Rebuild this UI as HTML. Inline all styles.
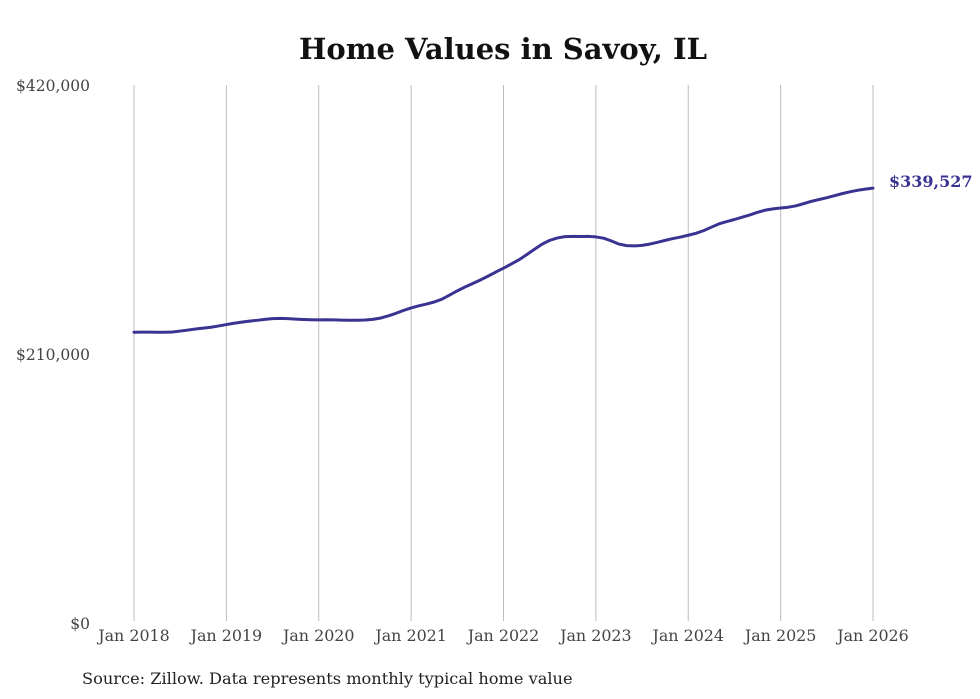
<!DOCTYPE html>
<html><head><meta charset="utf-8">
<style>
html,body{margin:0;padding:0;background:#fff;}
svg{display:block;font-family:"DejaVu Serif","Liberation Serif",serif;}
</style></head>
<body>
<svg id="chart" width="980" height="699" viewBox="0 0 980 699" xmlns="http://www.w3.org/2000/svg">
<text x="503" y="59" text-anchor="middle" font-size="29" font-weight="bold" fill="#111">Home Values in Savoy, IL</text>
<g id="grid"></g>
<g id="yaxis"></g>
<g id="xaxis"></g>
<path id="line" fill="none" stroke="#3a3392" stroke-width="3" stroke-linejoin="round" stroke-linecap="round"/>
<text id="endlabel" font-size="16" font-weight="bold" fill="#3a3392"></text>
<text x="82" y="684" font-size="16.2" fill="#222">Source: Zillow. Data represents monthly typical home value</text>
</svg>
<script>
const xTickLabels = ["Jan 2018","Jan 2019","Jan 2020","Jan 2021","Jan 2022","Jan 2023","Jan 2024","Jan 2025","Jan 2026"];
const yTickValues = [0, 210000, 420000];
const yTickLabels = ["$0","$210,000","$420,000"];
const values2018 = [227000,227100,227100,227000,227000,227200,227900,228700,229500,230200,230900,231900];
const values2019 = [233000,234000,234900,235700,236300,237000,237600,237800,237600,237200,236900,236700];
const values2020 = [236600,236700,236600,236400,236300,236300,236500,237000,238000,239700,241700,244000];
const values2021 = [246000,247600,249000,250600,252800,256000,259300,262300,265000,267800,270800,274000];
const values2022 = [277000,280200,283500,287500,291700,295700,298700,300600,301600,301800,301700,301800];
const values2023 = [301400,300400,298300,295800,294600,294400,294800,295800,297200,298700,300100,301300];
const values2024 = [302700,304200,306300,309000,311600,313400,315000,316800,318600,320600,322300,323300];
const values2025 = [324000,324600,325700,327400,329200,330600,332000,333600,335200,336600,337800,338700];
const values2026 = [339527];
const endLabel = "$339,527";

const values = [].concat(values2018,values2019,values2020,values2021,values2022,values2023,values2024,values2025,values2026);
const NS = "http://www.w3.org/2000/svg";
const x0 = 134, x1 = 873, yTop = 85, yBot = 623, yMax = 420000;
const xScale = i => x0 + (x1 - x0) * i / ((xTickLabels.length - 1) * 12);
const yScale = v => yBot - (yBot - yTop) * v / yMax;

const grid = document.getElementById('grid');
const xaxis = document.getElementById('xaxis');
xTickLabels.forEach((lab, k) => {
  const x = xScale(k * 12);
  const l = document.createElementNS(NS, 'line');
  
  
  l.setAttribute('x1', x); l.setAttribute('x2', x);
  l.setAttribute('y1', yTop); l.setAttribute('y2', 621);
  l.setAttribute('stroke', '#bdbdbd'); l.setAttribute('stroke-width', '1');
  grid.appendChild(l);
  const t = document.createElementNS(NS, 'text');
  
  
  t.setAttribute('x', x); t.setAttribute('y', 641);
  t.setAttribute('text-anchor', 'middle'); t.setAttribute('font-size', '15.9'); t.setAttribute('fill', '#444');
  t.textContent = lab;
  xaxis.appendChild(t);
});
const yaxis = document.getElementById('yaxis');
yTickValues.forEach((v, k) => {
  const t = document.createElementNS(NS, 'text');
  
  
  t.setAttribute('x', 90); t.setAttribute('y', yScale(v) + 6);
  t.setAttribute('text-anchor', 'end'); t.setAttribute('font-size', '15.5'); t.setAttribute('fill', '#444');
  t.textContent = yTickLabels[k];
  yaxis.appendChild(t);
});
let d = '';
values.forEach((v, i) => { d += (i ? 'L' : 'M') + xScale(i).toFixed(2) + ',' + yScale(v).toFixed(2); });
document.getElementById('line').setAttribute('d', d);
const last = values.length - 1;
const el = document.getElementById('endlabel');
el.setAttribute('x', xScale(last) + 16);
el.setAttribute('y', yScale(values[last]) - 1);
el.textContent = endLabel;
</script>
</body></html>
